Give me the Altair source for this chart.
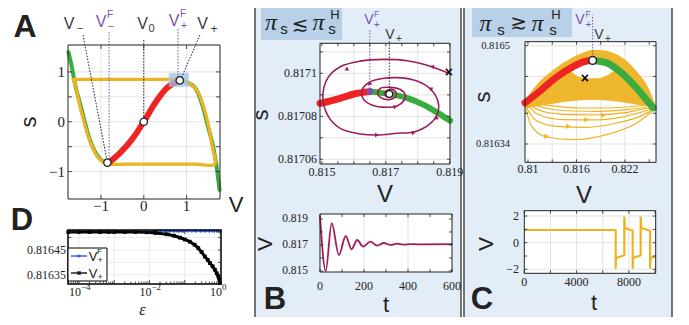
import altair as alt
import pandas as pd

SERIF = "Liberation Serif"
SANS = "Liberation Sans"
SYM = "DejaVu Sans"
GREEN = "#3aab3f"
RED = "#ee2424"
ORANGE = "#eeb322"
MAROON = "#9e1f5e"
PURPLE = "#7a52b3"
PANEL_BG = "#e3edf8"
TITLE_BG = "#b8d0e8"
GRID = "#dcdcdc"
INK = "#222222"
LAB = "#3a3a3a"

# ---------------- Panel A data ----------------
A_nc_V = [-1.76, -1.68, -1.61, -1.49, -1.37, -1.26, -1.10, -0.95, -0.83, -0.56, -0.28, 0.0, 0.26, 0.53, 0.84, 1.00, 1.23, 1.38, 1.50, 1.62, 1.70, 1.77]
A_nc_s = [1.40, 1.10, 0.77, 0.37, -0.03, -0.36, -0.66, -0.80, -0.83, -0.63, -0.36, 0.0, 0.37, 0.67, 0.83, 0.80, 0.64, 0.30, -0.10, -0.50, -0.90, -1.37]
A_red_V = [-0.83, -0.56, -0.28, 0.0, 0.26, 0.53, 0.84]
A_red_s = [-0.83, -0.63, -0.36, 0.0, 0.37, 0.67, 0.83]
A_orb_V = [-1.65, -1.2, -0.4, 0.4, 0.84, 0.97, 1.1, 1.25, 1.39, 1.51, 1.60, 1.66, 1.2, 0.4, -0.4, -0.83, -0.95, -1.10, -1.26, -1.38, -1.50, -1.59, -1.65]
A_orb_s = [0.85, 0.85, 0.85, 0.85, 0.85, 0.82, 0.75, 0.62, 0.32, -0.08, -0.50, -0.85, -0.85, -0.85, -0.85, -0.85, -0.81, -0.68, -0.38, -0.05, 0.35, 0.70, 0.85]
A_fix_V = [-0.85, 0.0, 0.84]
A_fix_s = [-0.82, 0.0, 0.83]

# ---------------- Panel D data ----------------
D_eps_k = [5e-5, 1e-4, 2e-4, 4e-4, 7e-4, 1e-3, 2e-3, 4e-3, 8.3e-3, 0.015, 0.031, 0.05, 0.074, 0.1, 0.14, 0.19, 0.243, 0.3, 0.375, 0.45, 0.52, 0.62, 0.72, 0.81, 0.90, 0.96, 1.0]
D_Vp = [0.816522, 0.816522, 0.816522, 0.816522, 0.816522, 0.816522, 0.816522, 0.816522, 0.816521, 0.816518, 0.816513, 0.816507, 0.816499, 0.816492, 0.816483, 0.816471, 0.816457, 0.816442, 0.816423, 0.816410, 0.816397, 0.816384, 0.816370, 0.816356, 0.816343, 0.816330, 0.816317]
D_eps_b = [0.012, 0.016, 0.021, 0.028, 0.037, 0.05, 0.066, 0.088, 0.12, 0.16, 0.21, 0.28, 0.37, 0.5, 0.66, 0.85, 1.0]
D_VpF = [0.816526, 0.816526, 0.816526, 0.816526, 0.816526, 0.816526, 0.816526, 0.816526, 0.816526, 0.816526, 0.816526, 0.816526, 0.816526, 0.816526, 0.816526, 0.816526, 0.816526]

# ---------------- Panel B data ----------------
B_nc_V = [0.81494, 0.81557, 0.8160, 0.8165, 0.81711, 0.81766, 0.81819, 0.81871, 0.81901]
B_nc_s = [0.8170860, 0.8170884, 0.8170904, 0.8170915, 0.8170904, 0.8170886, 0.8170853, 0.8170808, 0.8170780]
B_sp_V = [0.81897, 0.818447, 0.817664, 0.816932, 0.816201, 0.815574, 0.815177, 0.815030, 0.815177, 0.815574,
          0.816201, 0.816723, 0.817350, 0.817872, 0.818343, 0.818604, 0.818656, 0.818552, 0.818291, 0.817872,
          0.817350, 0.816932, 0.816514, 0.816253, 0.816284, 0.816566, 0.817037, 0.817350, 0.817580, 0.817611,
          0.817455, 0.817141, 0.816828, 0.816744, 0.816880, 0.817141, 0.817329, 0.817298, 0.817110, 0.816953,
          0.817037, 0.817193, 0.817110]
B_sp_s = [0.8171000, 0.8171031, 0.8171059, 0.8171065, 0.8171057, 0.8171031, 0.8170977, 0.8170891, 0.8170806, 0.8170744,
          0.8170718, 0.8170713, 0.8170721, 0.8170727, 0.8170760, 0.8170806, 0.8170853, 0.8170899, 0.8170941, 0.8170969,
          0.8170980, 0.8170977, 0.8170961, 0.8170922, 0.8170884, 0.8170853, 0.8170842, 0.8170848, 0.8170876, 0.8170899,
          0.8170925, 0.8170935, 0.8170930, 0.8170907, 0.8170884, 0.8170879, 0.8170896, 0.8170916, 0.8170925, 0.8170907,
          0.8170891, 0.8170896, 0.8170902]
B_arr_V = [0.818447, 0.815762, 0.816723, 0.817872, 0.818583, 0.818395, 0.816482, 0.817298]
B_arr_s = [0.8171031, 0.8171018, 0.8170713, 0.8170724, 0.8170795, 0.8170930, 0.8170950, 0.8170845]
B_arr_a = [280, 240, 90, 75, 355, 300, 225, 70]
B_t = [0, 26, 53, 86, 117, 143, 169, 196, 229, 260, 290, 320, 350, 380, 410, 450, 600]
B_Vt = [0.8192, 0.8150, 0.81867, 0.81623, 0.81769, 0.81667, 0.81738, 0.81687, 0.81725, 0.81695, 0.81715, 0.81700, 0.81710, 0.81703, 0.81707, 0.81705, 0.81706]

# ---------------- Panel C data ----------------
C_nc_V = [0.80963, 0.81148, 0.81355, 0.81560, 0.81726, 0.81800, 0.81974, 0.82138, 0.82303, 0.82448, 0.82550]
C_nc_s = [0.816407, 0.816426, 0.816449, 0.816466, 0.816475, 0.816476, 0.816472, 0.816458, 0.816437, 0.816415, 0.816399]
C_band_V = [0.80963, 0.81107, 0.81314, 0.81520, 0.81727, 0.81801, 0.81933, 0.82139, 0.82345, 0.82510, 0.82572]
C_band_top = [0.8164105, 0.8164366, 0.8164610, 0.8164789, 0.8164908, 0.8164935, 0.8164925, 0.8164827, 0.8164583, 0.8164257, 0.8164040]
C_band_bot = [0.8163975, 0.8164013, 0.8164057, 0.8164095, 0.8164116, 0.8164116, 0.8164111, 0.8164084, 0.8164040, 0.8163997, 0.8163943]
C_hole_V = [0.81500, 0.81590, 0.81727, 0.81850, 0.81974, 0.82060, 0.82110]
C_hole_top = [0.8164620, 0.8164691, 0.8164740, 0.8164750, 0.8164720, 0.8164659, 0.8164610]
C_hole_bot = [0.8164620, 0.8164525, 0.8164470, 0.8164470, 0.8164515, 0.8164585, 0.8164610]
C_loops_V = [
    [0.80975, 0.81045, 0.81231, 0.81562, 0.81974, 0.82345, 0.82531],
    [0.80984, 0.81087, 0.81355, 0.81727, 0.82098, 0.82386, 0.82552],
    [0.81004, 0.81148, 0.81437, 0.81809, 0.82139, 0.82407, 0.82560],
    [0.81025, 0.81210, 0.81520, 0.81850, 0.82180, 0.82428, 0.82564],
    [0.81066, 0.81272, 0.81562, 0.81891, 0.82222, 0.82469],
    [0.81107, 0.81355, 0.81644, 0.81933, 0.82222, 0.82469],
]
C_loops_s = [
    [0.8163959, 0.8163688, 0.8163514, 0.8163471, 0.8163552, 0.8163742, 0.8163921],
    [0.8163986, 0.8163796, 0.8163688, 0.8163671, 0.8163742, 0.8163850, 0.8163959],
    [0.8164013, 0.8163867, 0.8163796, 0.8163791, 0.8163834, 0.8163921, 0.8163986],
    [0.8164024, 0.8163921, 0.8163877, 0.8163872, 0.8163905, 0.8163970, 0.8164002],
    [0.8164040, 0.8163970, 0.8163937, 0.8163932, 0.8163959, 0.8164002],
    [0.8164057, 0.8164013, 0.8163986, 0.8163986, 0.8164002, 0.8164035],
]
C_arr_V = [0.81231, 0.81499, 0.81727, 0.81933]
C_arr_s = [0.8163525, 0.8163688, 0.8163796, 0.8163867]
C_t = [0, 6990, 6990, 7020, 7650, 7650, 7700, 8290, 8290, 8320, 8900, 8900, 8950, 9620, 9620, 9650, 10000]
C_Vt = [0.95, 0.95, -1.9, -1.15, -0.95, 1.9, 1.1, 0.9, -1.9, -1.15, -0.95, 1.9, 1.1, 0.9, -1.9, -1.15, -1.05]

# ---------------- helpers ----------------
OFF = 8


def px(v):
    return v - OFF


PAN = {
    "A": {"xd": [-1.77, 1.78], "xr": [68, 220], "yd": [-1.55, 1.54], "yr": [199, 45], "log": False},
    "D": {"xd": [4.9e-5, 1.07], "xr": [68, 221], "yd": [0.816313, 0.81653], "yr": [284, 230], "log": True},
    "B1": {"xd": [0.81494, 0.81901], "xr": [320, 450], "yd": [0.8170578, 0.817114], "yr": [164, 43.3], "log": False},
    "B2": {"xd": [0, 600], "xr": [320, 452], "yd": [0.81492, 0.81938], "yr": [272, 214], "log": False},
    "C1": {"xd": [0.80963, 0.82584], "xr": [525, 656], "yd": [0.8163102, 0.8165065], "yr": [162.3, 41.7], "log": False},
    "C2": {"xd": [0, 10050], "xr": [524.3, 655.7], "yd": [-2.3, 2.4], "yr": [273.3, 210.7], "log": False},
}
ONE = alt.Data(values=[{"k": 0}])


def sx(p):
    P = PAN[p]
    kw = dict(domain=P["xd"], range=[px(v) for v in P["xr"]], nice=False, zero=False)
    if P["log"]:
        kw["type"] = "log"
    return alt.Scale(**kw)


def sy(p):
    P = PAN[p]
    return alt.Scale(domain=P["yd"], range=[px(v) for v in P["yr"]], nice=False, zero=False)


def X(p, f="x"):
    return alt.X(f, type="quantitative", scale=sx(p), axis=None)


def Y(p, f="y"):
    return alt.Y(f, type="quantitative", scale=sy(p), axis=None)


def line(p, xs, ys, color, width, interp="linear", dash=None, opacity=1.0, cap="round"):
    df = pd.DataFrame({"x": xs, "y": ys, "i": list(range(len(xs)))})
    kw = dict(color=color, strokeWidth=width, interpolate=interp, strokeCap=cap, strokeJoin="round", opacity=opacity)
    if dash is not None:
        kw["strokeDash"] = dash
    return alt.Chart(df).mark_line(**kw).encode(x=X(p), y=Y(p), order=alt.Order("i", type="quantitative"))


def points(p, xs, ys, shape="circle", size=40, fill="white", stroke=INK, sw=1.0, angles=None):
    d = {"x": xs, "y": ys}
    enc = dict(x=X(p), y=Y(p))
    if angles is not None:
        d["a"] = angles
        enc["angle"] = alt.Angle("a", type="quantitative", scale=None)
    kw = dict(shape=shape, size=size, filled=True, fill=fill, opacity=1, strokeWidth=sw)
    if stroke:
        kw["stroke"] = stroke
    else:
        kw["strokeWidth"] = 0
    return alt.Chart(pd.DataFrame(d)).mark_point(**kw).encode(**enc)


def area(p, xs, top, bot, color, opacity=1.0, interp="monotone"):
    df = pd.DataFrame({"x": xs, "y": top, "y2": bot})
    return alt.Chart(df).mark_area(color=color, opacity=opacity, interpolate=interp).encode(
        x=X(p), y=Y(p), y2=alt.Y2("y2"))


def box(x0, y0, x1, y1, fill=None, stroke=None, sw=1.0):
    kw = {}
    if fill:
        kw["fill"] = fill
    else:
        kw["fill"] = "white"
        kw["fillOpacity"] = 0
    if stroke:
        kw["stroke"] = stroke
        kw["strokeWidth"] = sw
    return alt.Chart(ONE).mark_rect(**kw).encode(
        x=alt.value(px(x0)), x2=alt.value(px(x1)), y=alt.value(px(y0)), y2=alt.value(px(y1)))


def txt(s, x, y, size=12, font=SANS, color=INK, align="center", baseline="alphabetic", angle=0,
        weight="normal", style="normal"):
    kw = dict(text=s, font=font, fontSize=size, color=color, align=align, baseline=baseline,
              fontWeight=weight, fontStyle=style)
    if angle:
        kw["angle"] = angle
    return alt.Chart(ONE).mark_text(**kw).encode(x=alt.value(px(x)), y=alt.value(px(y)))


def vgrid(p, vals, color=GRID, w=0.8):
    P = PAN[p]
    return alt.Chart(pd.DataFrame({"v": vals})).mark_rule(color=color, strokeWidth=w).encode(
        x=X(p, "v"), y=alt.value(px(P["yr"][1])), y2=alt.value(px(P["yr"][0])))


def hgrid(p, vals, color=GRID, w=0.8):
    P = PAN[p]
    return alt.Chart(pd.DataFrame({"v": vals})).mark_rule(color=color, strokeWidth=w).encode(
        y=Y(p, "v"), x=alt.value(px(P["xr"][0])), x2=alt.value(px(P["xr"][1])))


def xticks(p, vals, L=4, color=INK, w=0.8):
    P = PAN[p]
    yb, yt = P["yr"]
    df = pd.DataFrame({"v": vals})
    bot = alt.Chart(df).mark_rule(color=color, strokeWidth=w).encode(
        x=X(p, "v"), y=alt.value(px(yb)), y2=alt.value(px(yb - L)))
    top = alt.Chart(df).mark_rule(color=color, strokeWidth=w).encode(
        x=X(p, "v"), y=alt.value(px(yt)), y2=alt.value(px(yt + L)))
    return [bot, top]


def yticks(p, vals, L=4, color=INK, w=0.8):
    P = PAN[p]
    xl, xr = P["xr"]
    df = pd.DataFrame({"v": vals})
    left = alt.Chart(df).mark_rule(color=color, strokeWidth=w).encode(
        y=Y(p, "v"), x=alt.value(px(xl)), x2=alt.value(px(xl + L)))
    right = alt.Chart(df).mark_rule(color=color, strokeWidth=w).encode(
        y=Y(p, "v"), x=alt.value(px(xr)), x2=alt.value(px(xr - L)))
    return [left, right]


def xlabels(p, vals, labs, y, size=12, font=SERIF, dx=0, align="center"):
    df = pd.DataFrame({"v": vals, "t": labs})
    return alt.Chart(df).mark_text(font=font, fontSize=size, color=INK, align=align, baseline="top", dx=dx).encode(
        x=X(p, "v"), y=alt.value(px(y)), text=alt.Text("t", type="nominal"))


def ylabels(p, vals, labs, x, size=12, font=SERIF):
    df = pd.DataFrame({"v": vals, "t": labs})
    return alt.Chart(df).mark_text(font=font, fontSize=size, color=INK, align="right", baseline="middle").encode(
        y=Y(p, "v"), x=alt.value(px(x)), text=alt.Text("t", type="nominal"))


def frame(p, color=INK, sw=1.0, fill=None):
    P = PAN[p]
    return box(P["xr"][0], P["yr"][1], P["xr"][1], P["yr"][0], fill=fill, stroke=None if fill else color, sw=sw)


L = []

# ================= panel backgrounds =================
L.append(box(255, -3, 461, 318, fill=PANEL_BG, stroke="#4a4a4a", sw=1.5))
L.append(box(464, -3, 672, 318, fill=PANEL_BG, stroke="#4a4a4a", sw=1.5))
L.append(box(261, 3, 342, 40, fill=TITLE_BG))
L.append(box(472, 3, 572, 37, fill=TITLE_BG))
for p in ["B1", "B2", "C1", "C2"]:
    L.append(frame(p, fill="white"))

# ================= Panel A =================
L.append(vgrid("A", [-1, 0, 1]))
L.append(hgrid("A", [-1, -0.5, 0, 0.5, 1]))
L.append(line("A", A_nc_V, A_nc_s, GREEN, 4, interp="monotone"))
L.append(line("A", A_orb_V, A_orb_s, ORANGE, 3.2, interp="catmull-rom"))
L.append(line("A", A_red_V, A_red_s, RED, 6, interp="monotone"))
dfr = pd.DataFrame({"x0": [0.585], "x1": [1.05], "y0": [0.98], "y1": [0.70]})
L.append(alt.Chart(dfr).mark_rect(color="#9fc3ea", opacity=0.75).encode(
    x=X("A", "x0"), x2=alt.X2("x1"), y=Y("A", "y0"), y2=alt.Y2("y1")))
L.append(line("A", [-1.42, -0.85], [1.74, -0.82], INK, 1, dash=[1.5, 1.5], cap="butt"))
L.append(line("A", [-0.81, -0.81], [1.80, -0.82], PURPLE, 1, dash=[1.5, 1.5], cap="butt"))
L.append(line("A", [0.0, 0.0], [1.64, 0.0], INK, 1, dash=[1.5, 1.5], cap="butt"))
L.append(line("A", [0.80, 0.80], [1.86, 0.83], PURPLE, 1, dash=[1.5, 1.5], cap="butt"))
L.append(line("A", [1.31, 0.88], [1.74, 0.88], INK, 1, dash=[1.5, 1.5], cap="butt"))
L.append(points("A", A_fix_V, A_fix_s, size=55, sw=1.3))
L.append(frame("A", sw=1.0))
L += xticks("A", [-1, 0, 1])
L += yticks("A", [-1, -0.5, 0, 0.5, 1])
L.append(xlabels("A", [-1, 0, 1], ["\u22121", "0", "1"], 199, size=15))
L.append(ylabels("A", [-1, 0, 1], ["\u22121", "0", "1"], 65, size=15))
L.append(txt("A", 25, 37, size=32, weight="bold"))
L.append(txt("s", 29, 122, size=22, angle=270, baseline="middle"))
L.append(txt("V", 236, 212, size=22))
# state labels
L.append(txt("V", 69, 29, size=16, color=LAB))
L.append(txt("\u2212", 80, 32, size=11, color=LAB))
L.append(txt("V", 101, 27, size=16, color=PURPLE))
L.append(txt("F", 110, 18, size=10, color=PURPLE))
L.append(txt("\u2212", 111, 30, size=11, color=PURPLE))
L.append(txt("V", 142.5, 29, size=16, color=LAB))
L.append(txt("0", 151.5, 32, size=11, color=LAB))
L.append(txt("V", 174, 26, size=16, color=PURPLE))
L.append(txt("F", 183, 17, size=10, color=PURPLE))
L.append(txt("+", 184, 29, size=11, color=PURPLE))
L.append(txt("V", 202.5, 29, size=16, color=LAB))
L.append(txt("+", 214, 33, size=12, color=LAB))

# ================= Panel D =================
D_major = [1e-4, 1e-3, 1e-2, 1e-1, 1.0]
D_minor = [m * d for d in [1e-5, 1e-4, 1e-3, 1e-2, 1e-1] for m in range(2, 10) if 4.9e-5 < m * d < 1.07]
L.append(vgrid("D", D_major, color="#e6e6e6"))
L.append(hgrid("D", [0.81635, 0.8164, 0.81645, 0.8165], color="#e6e6e6"))
L.append(line("D", D_eps_b, D_VpF, "#2244ff", 1.5))
L.append(points("D", D_eps_b, D_VpF, size=10, fill="#2a6bff", stroke=None))
L.append(line("D", D_eps_k, D_Vp, "black", 3))
L.append(points("D", D_eps_k, D_Vp, shape="square", size=14, fill="black", stroke=None))
L.append(frame("D", sw=1.5, color="black"))
L += xticks("D", D_major, L=4)
L += xticks("D", D_minor, L=2.5)
L += yticks("D", [0.81635, 0.8164, 0.81645, 0.8165], L=3)
L.append(xlabels("D", [1e-4, 1e-2, 1.0], ["10", "10", "10"], 287, size=12, dx=-4))
L.append(xlabels("D", [1e-4, 1e-2, 1.0], ["\u22124", "\u22122", "0"], 283, size=9, dx=2, align="left"))
L.append(ylabels("D", [0.81645, 0.81635], ["0.81645", "0.81635"], 66, size=12))
L.append(box(68, 248, 107, 281, fill="white", stroke="black", sw=1))
L.append(alt.Chart(ONE).mark_rule(color="#2244ff", strokeWidth=1.3).encode(
    x=alt.value(px(71)), x2=alt.value(px(87)), y=alt.value(px(256))))
L.append(alt.Chart(ONE).mark_point(shape="circle", size=10, filled=True, color="#2244ff").encode(
    x=alt.value(px(79)), y=alt.value(px(256))))
L.append(alt.Chart(ONE).mark_rule(color="black", strokeWidth=1.3).encode(
    x=alt.value(px(71)), x2=alt.value(px(87)), y=alt.value(px(273))))
L.append(alt.Chart(ONE).mark_point(shape="square", size=14, filled=True, color="black").encode(
    x=alt.value(px(79)), y=alt.value(px(273))))
L.append(txt("V", 93, 261, size=13))
L.append(txt("F", 99.5, 254, size=8))
L.append(txt("+", 100, 263, size=9))
L.append(txt("V", 93, 278, size=13))
L.append(txt("+", 100, 280, size=9))
L.append(txt("D", 22, 230, size=31, weight="bold"))
L.append(txt("\u03b5", 142.5, 309.5, size=16, font=SERIF, style="italic", baseline="middle"))

# ================= Panel B (upper) =================
L.append(vgrid("B1", [0.816, 0.817, 0.818]))
L.append(hgrid("B1", [0.81706, 0.81707, 0.81708, 0.81709, 0.8171, 0.81711]))
L.append(line("B1", B_nc_V[:4], B_nc_s[:4], RED, 7, interp="monotone"))
L.append(line("B1", B_nc_V[3:], B_nc_s[3:], GREEN, 6, interp="monotone"))
L.append(line("B1", B_sp_V, B_sp_s, MAROON, 1.6, interp="catmull-rom"))
L.append(points("B1", B_arr_V, B_arr_s, shape="triangle-up", size=22, fill=MAROON, stroke=None, angles=B_arr_a))
L.append(line("B1", [0.8165, 0.8165], [0.8170915, 0.8171205], PURPLE, 1, dash=[1.5, 1.5], cap="butt"))
L.append(line("B1", [0.81711, 0.81711], [0.8170904, 0.8171150], INK, 1, dash=[1.5, 1.5], cap="butt"))
L.append(points("B1", [0.8165], [0.8170915], size=45, fill=PURPLE, stroke=None))
L.append(points("B1", [0.81711], [0.8170904], size=45, sw=1.3))
L.append(alt.Chart(pd.DataFrame({"x": [0.81897], "y": [0.8171]})).mark_text(
    text="\u00d7", fontSize=14, font=SANS, fontWeight="bold", color="black", baseline="middle").encode(x=X("B1"), y=Y("B1")))
L.append(frame("B1", sw=1.0))
L += xticks("B1", [0.815, 0.8155, 0.816, 0.8165, 0.817, 0.8175, 0.818, 0.8185, 0.819], L=3)
L += yticks("B1", [0.81706, 0.81707, 0.81708, 0.81709, 0.8171, 0.81711], L=3)
L.append(xlabels("B1", [0.815, 0.817, 0.819], ["0.815", "0.817", "0.819"], 167, size=12))
L.append(ylabels("B1", [0.8171, 0.81708, 0.81706], ["0.8171", "0.81708", "0.81706"], 317, size=12))
L.append(txt("s", 261, 115, size=22, angle=270, baseline="middle"))
L.append(txt("V", 385, 202, size=24))
L.append(txt("V", 369, 24, size=14, color=PURPLE))
L.append(txt("F", 376.5, 17, size=8.5, color=PURPLE))
L.append(txt("+", 377, 28, size=10, color=PURPLE))
L.append(txt("V", 390, 39, size=14, color=LAB))
L.append(txt("+", 399, 42, size=10, color=LAB))
# title
L.append(txt("\u03c0", 271, 30, size=24, font=SERIF, style="italic"))
L.append(txt("s", 284, 34, size=15))
L.append(txt("\u2272", 300, 25, size=20, font=SYM, baseline="middle"))
L.append(txt("\u03c0", 318.5, 30, size=24, font=SERIF, style="italic"))
L.append(txt("s", 332, 34, size=15))
L.append(txt("H", 335, 19, size=13))

# ================= Panel B (lower) =================
L.append(vgrid("B2", [200, 400]))
L.append(hgrid("B2", [0.817]))
L.append(line("B2", B_t, B_Vt, MAROON, 1.8, interp="monotone"))
L.append(frame("B2", sw=1.0))
L += xticks("B2", [0, 100, 200, 300, 400, 500, 600], L=3)
L += yticks("B2", [0.815, 0.816, 0.817, 0.818, 0.819], L=3)
L.append(xlabels("B2", [0, 200, 400, 600], ["0", "200", "400", "600"], 281, size=12))
L.append(ylabels("B2", [0.815, 0.817, 0.819], ["0.815", "0.817", "0.819"], 308, size=11.5))
L.append(txt("V", 266, 244, size=21, angle=270, baseline="middle"))
L.append(txt("t", 386, 312, size=22))
L.append(txt("B", 275, 309, size=31, weight="bold"))

# ================= Panel C (upper) =================
L.append(vgrid("C1", [0.813, 0.816, 0.819, 0.822]))
L.append(hgrid("C1", [0.81634, 0.81639, 0.81645, 0.8165]))
L.append(area("C1", C_band_V, C_band_top, C_band_bot, ORANGE, opacity=0.95))
for lv, ls in zip(C_loops_V, C_loops_s):
    L.append(line("C1", lv, ls, ORANGE, 1.2, interp="monotone"))
L.append(points("C1", C_arr_V, C_arr_s, shape="triangle-right", size=28, fill=ORANGE, stroke=None))
L.append(area("C1", C_hole_V, C_hole_top, C_hole_bot, "white", opacity=1.0))
L.append(line("C1", C_nc_V[:6], C_nc_s[:6], RED, 7, interp="monotone"))
L.append(line("C1", C_nc_V[5:], C_nc_s[5:], GREEN, 7, interp="monotone"))
L.append(line("C1", [0.818, 0.818], [0.816476, 0.816550], PURPLE, 1, dash=[1.5, 1.5], cap="butt"))
L.append(points("C1", [0.818], [0.816476], size=60, sw=1.5))
L.append(alt.Chart(pd.DataFrame({"x": [0.81705], "y": [0.8164458]})).mark_text(
    text="\u00d7", fontSize=14, font=SANS, fontWeight="bold", color="black", baseline="middle").encode(x=X("C1"), y=Y("C1")))
L.append(frame("C1", sw=1.0))
L += xticks("C1", [0.81, 0.813, 0.816, 0.819, 0.822, 0.825], L=3)
L += yticks("C1", [0.81634, 0.81639, 0.81645, 0.8165], L=3)
L.append(xlabels("C1", [0.81, 0.816, 0.822], ["0.81", "0.816", "0.822"], 164, size=12))
L.append(ylabels("C1", [0.8165, 0.81634], ["0.8165", "0.81634"], 510, size=10.5))
L.append(txt("s", 483, 97, size=22, angle=270, baseline="middle"))
L.append(txt("V", 584, 203, size=24))
L.append(txt("V", 580, 24, size=14, color=PURPLE))
L.append(txt("F", 588, 17, size=8.5, color=PURPLE))
L.append(txt("+", 588.5, 28, size=10, color=PURPLE))
L.append(txt("V", 599, 39, size=14, color=LAB))
L.append(txt("+", 608, 42, size=10, color=LAB))
# title
L.append(txt("\u03c0", 485.5, 31, size=24, font=SERIF, style="italic"))
L.append(txt("s", 501, 35, size=15))
L.append(txt("\u2273", 518.5, 23, size=20, font=SYM, baseline="middle"))
L.append(txt("\u03c0", 537.5, 31, size=24, font=SERIF, style="italic"))
L.append(txt("s", 553, 35, size=15))
L.append(txt("H", 556, 19, size=13))

# ================= Panel C (lower) =================
L.append(vgrid("C2", [2000, 4000, 6000, 8000]))
L.append(hgrid("C2", [-2, 0, 2]))
L.append(line("C2", C_t, C_Vt, ORANGE, 2.2, cap="butt"))
L.append(frame("C2", sw=1.0))
L += xticks("C2", [0, 2000, 4000, 6000, 8000, 10000], L=3)
L += yticks("C2", [-2, -1, 0, 1, 2], L=3)
L.append(xlabels("C2", [0, 4000, 8000], ["0", "4000", "8000"], 277, size=12))
L.append(ylabels("C2", [2, 0, -2], ["2", "0", "\u22122"], 519, size=12))
L.append(txt("V", 487, 244, size=21, angle=270, baseline="middle"))
L.append(txt("t", 594, 310, size=22))
L.append(txt("C", 482, 309, size=31, weight="bold"))

chart = alt.layer(*L).resolve_scale(x="independent", y="independent").properties(
    width=673, height=309, padding=0, background="white",
    autosize=alt.AutoSizeParams(type="none"),
).configure_view(strokeWidth=0)

chart.save("out.html", embed_options={"renderer": "svg", "actions": False})
